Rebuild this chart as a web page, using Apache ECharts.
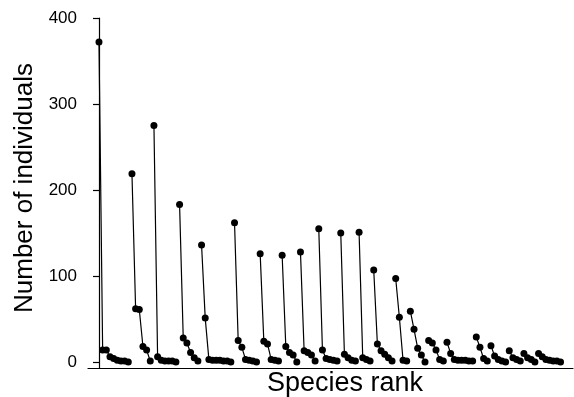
<!DOCTYPE html>
<html>
<head>
<meta charset="utf-8">
<script src="https://cdn.jsdelivr.net/npm/echarts@6/dist/echarts.min.js"></script>
<style>
  html, body { margin: 0; padding: 0; background: #fff; }
  #chart { width: 574px; height: 397px; }
</style>
</head>
<body>
<div id="chart"></div>
<script>
// rank-abundance curves, one array per sample
const sample1 = [372, 14, 14, 6, 4, 2, 1, 1, 0]
const sample2 = [219, 62, 61, 18, 14, 1]
const sample3 = [275, 6, 2, 1, 1, 1, 0]
const sample4 = [183, 28, 22, 11, 5, 1]
const sample5 = [136, 51, 3, 2, 2, 2, 1, 1, 0]
const sample6 = [162, 25, 17, 3, 2, 1, 0]
const sample7 = [126, 24, 21, 3, 2, 1]
const sample8 = [124, 18, 11, 8, 0]
const sample9 = [128, 13, 11, 8, 1]
const sample10 = [155, 14, 4, 3, 2, 1]
const sample11 = [150, 9, 5, 2, 1]
const sample12 = [151, 5, 3, 1]
const sample13 = [107, 21, 13, 9, 5, 1]
const sample14 = [97, 52, 2, 1]
const sample15 = [59, 38, 16, 8, 0]
const sample16 = [25, 22, 14, 3, 1]
const sample17 = [23, 10, 3, 2, 2, 2, 1, 1]
const sample18 = [29, 17, 4, 1]
const sample19 = [19, 7, 3, 1, 0]
const sample20 = [13, 5, 3, 1]
const sample21 = [10, 5, 3, 0]
const sample22 = [10, 6, 3, 2, 1, 1, 0]

const samples = [
  sample1, sample2, sample3, sample4, sample5, sample6, sample7, sample8,
  sample9, sample10, sample11, sample12, sample13, sample14, sample15,
  sample16, sample17, sample18, sample19, sample20, sample21, sample22,
]
const yTicks = [0, 100, 200, 300, 400]

const font = "'Liberation Sans', Arial, sans-serif"

// species rank runs on continuously across samples, each sample is its own line
let rank = 0
const series = samples.map(values => {
  const data = values.map(v => [rank++, v])
  return {
    type: 'line',
    data,
    symbol: 'circle',
    symbolSize: 7,
    showSymbol: true,
    itemStyle: { color: '#000' },
    lineStyle: { color: '#000', width: 1.2 },
    animation: false,
  }
})

const chart = echarts.init(document.getElementById('chart'))
chart.setOption({
  backgroundColor: '#fff',
  grid: { left: 88, right: 1, top: 18, bottom: 29, containLabel: false, outerBoundsMode: 'none' },
  xAxis: {
    type: 'value',
    min: -3,
    max: 129.4,
    name: 'Species rank',
    nameLocation: 'middle',
    nameGap: 2,
    nameTextStyle: { fontFamily: font, fontSize: 27, color: '#000', padding: [0, 0, 0, 29], verticalAlign: 'top' },
    axisLine: { onZero: false, lineStyle: { color: '#000', width: 1.2 } },
    axisTick: { show: false },
    axisLabel: { show: false },
    splitLine: { show: false },
  },
  yAxis: {
    type: 'value',
    min: -7,
    max: 400,
    name: 'Number of individuals',
    nameLocation: 'middle',
    nameGap: 50,
    nameTextStyle: { fontFamily: font, fontSize: 26, color: '#000', padding: [0, 0, 0, 10] },
    axisLine: { show: true, lineStyle: { color: '#000', width: 1.2 } },
    axisTick: { show: true, length: 6, customValues: yTicks, lineStyle: { color: '#000', width: 1.2 } },
    axisLabel: { customValues: yTicks, margin: 11, fontFamily: font, fontSize: 17, color: '#000' },
    splitLine: { show: false },
  },
  series,
})
</script>
</body>
</html>
